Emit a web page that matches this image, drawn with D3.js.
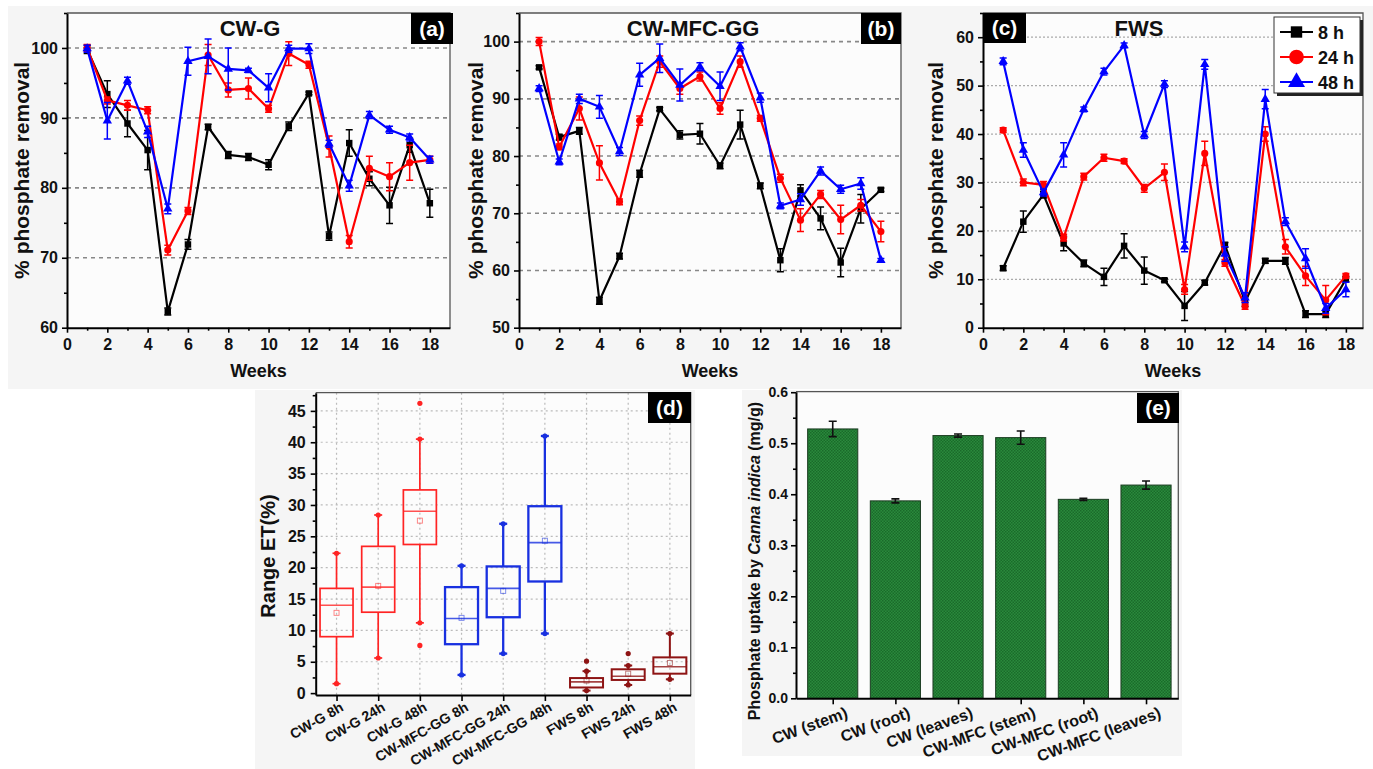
<!DOCTYPE html>
<html><head><meta charset="utf-8">
<script src="https://cdn.jsdelivr.net/npm/d3@7"></script>
<style>
body{margin:0;background:#fff;}
svg{display:block;font-family:"Liberation Sans",Arial,sans-serif;font-weight:bold;}
</style>
</head><body>
<svg id="c" width="1373" height="769"></svg>
<script>
// ---------------- DATA ----------------
const weeks = [1,2,3,4,5,6,7,8,9,10,11,12,13,14,15,16,17,18];
const weekTicks = [0,2,4,6,8,10,12,14,16,18];
const weekMinor = [1,3,5,7,9,11,13,15,17];
const seriesNames = ["8 h","24 h","48 h"];

// (a) CW-G
const cwg8    = [99.8,93.4,89.2,85.4,62.3,71.9,88.7,84.7,84.4,83.3,88.8,93.5,73.1,86.4,81.3,77.5,86.1,77.8];
const cwg8Err = [0.6,1.9,1.9,2.8,0.5,0.7,0.4,0.5,0.5,0.7,0.6,0.2,0.6,1.9,1.0,2.6,1.0,2.0];
const cwg24   = [100.0,92.5,91.8,91.1,71.1,76.7,99.0,94.0,94.2,91.3,99.2,97.6,85.9,72.3,82.8,81.6,83.6,84.0];
const cwg24Err= [0.5,0.5,0.7,0.5,0.7,0.5,1.5,1.0,1.5,0.5,1.7,0.5,1.5,0.9,1.7,2.0,2.5,0.5];
const cwg48   = [99.9,89.6,95.3,88.0,77.0,98.1,98.8,97.0,96.8,94.3,99.9,99.9,86.3,80.3,90.4,88.3,87.2,84.0];
const cwg48Err= [0.5,2.6,0.5,0.8,0.7,2.0,2.5,3.0,0.3,2.0,0.5,0.7,0.5,0.8,0.5,0.5,0.5,0.5];

// (b) CW-MFC-GG
const mfc8    = [95.5,83.3,84.4,54.7,62.5,76.9,88.2,83.7,83.9,78.3,85.5,74.8,61.8,74.0,69.1,61.4,70.8,74.1];
const mfc8Err = [0.3,0.5,0.6,0.6,0.5,0.6,0.3,0.7,1.8,0.5,2.5,0.5,2.0,1.0,2.0,2.5,2.5,0.3];
const mfc24   = [100.0,81.6,88.3,78.8,72.0,86.2,96.5,91.8,93.9,88.3,96.5,86.6,76.1,68.8,73.3,68.9,71.4,66.8];
const mfc24Err= [0.7,0.5,2.0,3.0,0.5,0.8,1.0,1.0,0.8,1.0,1.0,0.5,0.7,2.0,0.7,2.5,1.0,1.8];
const mfc48   = [91.8,79.0,90.0,88.6,80.8,94.2,97.1,92.4,95.6,92.2,99.1,90.2,71.3,72.4,77.4,74.2,75.2,61.8];
const mfc48Err= [0.5,0.5,0.8,2.0,0.7,2.0,2.5,2.8,0.7,2.5,0.7,0.8,0.5,1.0,0.7,0.7,1.0,0.3];

// (c) FWS
const fws8    = [12.3,21.9,27.5,17.4,13.3,10.5,16.9,11.8,9.8,4.5,9.3,17.1,5.4,13.8,13.8,2.8,2.8,10.0];
const fws8Err = [0.5,2.2,0.7,1.5,0.7,1.8,2.5,2.8,0.3,3.0,0.5,0.5,1.0,0.5,0.7,0.7,0.7,0.5];
const fws24   = [40.8,30.0,29.5,18.6,31.2,35.1,34.4,28.8,32.1,7.9,36.0,13.4,4.5,40.0,16.7,10.7,5.7,10.7];
const fws24Err= [0.5,0.7,0.7,0.7,0.7,0.7,0.5,0.8,1.7,1.0,2.5,0.7,0.7,1.5,1.5,2.0,3.0,0.5];
const fws48   = [55.0,36.7,27.9,35.7,45.1,52.9,58.3,39.8,50.3,16.7,54.4,15.2,6.2,47.2,21.9,14.3,4.0,7.9];
const fws48Err= [0.7,1.5,0.7,2.5,0.5,0.7,0.5,0.7,0.7,1.0,1.0,1.5,1.0,2.0,0.8,2.0,1.0,1.5];

// (d) box plot
const boxCats  = ["CW-G 8h","CW-G 24h","CW-G 48h","CW-MFC-GG 8h","CW-MFC-GG 24h","CW-MFC-GG 48h","FWS 8h","FWS 24h","FWS 48h"];
const boxLo    = [1.5,5.6,11.2,2.9,6.3,9.5,0.4,1.3,2.2];
const boxQ1    = [9.0,12.9,23.7,7.8,12.1,17.8,0.9,2.1,3.1];
const boxMed   = [14.0,16.9,29.0,11.9,16.7,24.0,1.8,2.7,4.2];
const boxQ3    = [16.7,23.4,32.4,16.9,20.2,29.8,2.4,3.8,5.7];
const boxHi    = [22.3,28.4,40.5,20.3,27.0,41.0,3.5,4.4,9.5];
const boxMean  = [12.8,17.1,27.5,12.0,16.3,24.3,2.0,3.1,4.8];
const boxOut   = [[],[],[7.6,46.2],[],[],[],[5.1],[6.3],[]];
const boxTicks = [0,5,10,15,20,25,30,35,40,45];

// (e) bar chart
const barCats = ["CW (stem)","CW (root)","CW (leaves)","CW-MFC (stem)","CW-MFC (root)","CW-MFC (leaves)"];
const barVals = [0.528,0.387,0.515,0.511,0.390,0.418];
const barErr  = [0.015,0.004,0.003,0.013,0.002,0.008];
const barTicks = [0.0,0.1,0.2,0.3,0.4,0.5,0.6];

// ---------------- DRAWING ----------------
const svg = d3.select('#c');
const defs = svg.append('defs');

// panel backgrounds
svg.append('rect').attr('x',8).attr('y',6).attr('width',1365).attr('height',383).attr('fill','#f5f5f5');
svg.append('rect').attr('x',255).attr('y',390).attr('width',440).attr('height',379).attr('fill','#f5f5f5');
svg.append('rect').attr('x',742).attr('y',390).attr('width',440).attr('height',366).attr('fill','#f5f5f5');

function styleAxis(sel, fs){
  sel.select('.domain').attr('stroke','#000').attr('stroke-width',2);
  sel.selectAll('.tick line').attr('stroke','#000').attr('stroke-width',1.6);
  sel.selectAll('.tick text').attr('fill','#111').style('font-size',fs+'px').style('font-weight','bold');
}

function labelBox(x0,y0,w,h,txt){
  svg.append('rect').attr('x',x0).attr('y',y0).attr('width',w).attr('height',h).attr('fill','#000');
  svg.append('text').attr('x',x0+w/2).attr('y',y0+h/2+7).attr('text-anchor','middle')
    .attr('fill','#fff').style('font-size','21px').text(txt);
}

const symType = [d3.symbolSquare, d3.symbolCircle, d3.symbolTriangle];
const symSize = [42, 40, 38];
const colors = ['#000000','#ff0000','#0000ff'];

function linePanel(o){
  const x = d3.scaleLinear().domain(o.xd).range([o.l,o.r]);
  const y = d3.scaleLinear().domain(o.yd).range([o.b,o.t]);
  const g = svg.append('g');
  g.append('rect').attr('x',o.l).attr('y',o.t).attr('width',o.r-o.l).attr('height',o.b-o.t).attr('fill','#fcfcfc');
  g.selectAll(null).data(o.grid).join('line')
    .attr('x1',o.l).attr('x2',o.r).attr('y1',d=>y(d)).attr('y2',d=>y(d))
    .attr('stroke',o.gridColor).attr('stroke-width',o.gridW).attr('stroke-dasharray',o.dash);
  g.append('path').attr('d',`M${o.l},${o.t}H${o.r}V${o.b}`).attr('fill','none').attr('stroke','#555').attr('stroke-width',1.3);
  // minor ticks
  g.append('g').attr('transform',`translate(0,${o.b})`)
    .call(d3.axisBottom(x).tickValues(weekMinor).tickSize(3).tickSizeOuter(0).tickFormat(''))
    .call(s=>{s.select('.domain').remove(); s.selectAll('line').attr('stroke','#000').attr('stroke-width',1.6);});
  g.append('g').attr('transform',`translate(${o.l},0)`)
    .call(d3.axisLeft(y).tickValues(o.yMinor).tickSize(3).tickSizeOuter(0).tickFormat(''))
    .call(s=>{s.select('.domain').remove(); s.selectAll('line').attr('stroke','#000').attr('stroke-width',1.6);});
  g.append('g').attr('transform',`translate(0,${o.b})`)
    .call(d3.axisBottom(x).tickValues(weekTicks).tickSize(5).tickSizeOuter(0).tickPadding(6).tickFormat(d3.format('d')))
    .call(s=>styleAxis(s,16));
  g.append('g').attr('transform',`translate(${o.l},0)`)
    .call(d3.axisLeft(y).tickValues(o.yTicks).tickSize(5).tickSizeOuter(0).tickPadding(4).tickFormat(d3.format('d')))
    .call(s=>styleAxis(s,16));
  // axis titles
  g.append('text').attr('x',(o.l+o.r)/2).attr('y',o.b+49).attr('text-anchor','middle')
    .style('font-size','18px').attr('fill','#111').text('Weeks');
  g.append('text').attr('transform',`translate(${o.yl},${(o.t+o.b)/2}) rotate(-90)`).attr('text-anchor','middle')
    .attr('dy','0.35em').style('font-size','21px').attr('fill','#111').text('% phosphate removal');
  g.append('text').attr('x',o.l+o.tx).attr('y',o.t+23).attr('text-anchor','middle')
    .style('font-size','22px').attr('fill','#111').text(o.title);
  // series
  o.series.forEach((s,k)=>{
    const data = weeks.map((w,i)=>({w:w, v:s.v[i], e:s.e[i]}));
    g.append('path').datum(data)
      .attr('d',d3.line().x(d=>x(d.w)).y(d=>y(d.v)))
      .attr('fill','none').attr('stroke',colors[k]).attr('stroke-width',2.2).attr('stroke-linejoin','round');
    g.append('g').selectAll('path').data(data).join('path')
      .attr('d',d=>{const cx=x(d.w), y1=y(d.v+d.e), y2=y(d.v-d.e);
        return `M${cx-3.5},${y1}H${cx+3.5}M${cx},${y1}V${y2}M${cx-3.5},${y2}H${cx+3.5}`;})
      .attr('stroke',colors[k]).attr('stroke-width',1.5).attr('fill','none');
    g.append('g').selectAll('path').data(data).join('path')
      .attr('transform',d=>`translate(${x(d.w)},${y(d.v)})`)
      .attr('d',d3.symbol().type(symType[k]).size(symSize[k]))
      .attr('fill',colors[k]);
  });
  return {x,y};
}

linePanel({l:67,r:450,t:13,b:327.7,xd:[0,19],yd:[60,105],
  yTicks:[60,70,80,90,100], yMinor:[65,75,85,95,105], grid:[70,80,90,100],
  gridColor:'#888',gridW:1.6,dash:'4,4', yl:22, tx:183, title:'CW-G',
  series:[{v:cwg8,e:cwg8Err},{v:cwg24,e:cwg24Err},{v:cwg48,e:cwg48Err}]});
linePanel({l:519,r:901,t:13,b:327.7,xd:[0,19],yd:[50,105],
  yTicks:[50,60,70,80,90,100], yMinor:[55,65,75,85,95,105], grid:[60,70,80,90,100],
  gridColor:'#888',gridW:1.6,dash:'4,4', yl:476, tx:174, title:'CW-MFC-GG',
  series:[{v:mfc8,e:mfc8Err},{v:mfc24,e:mfc24Err},{v:mfc48,e:mfc48Err}]});
linePanel({l:983,r:1363,t:13,b:327.7,xd:[0,18.85],yd:[0,65],
  yTicks:[0,10,20,30,40,50,60], yMinor:[5,15,25,35,45,55,65], grid:[10,20,30,40,50,60],
  gridColor:'#aaa',gridW:1.3,dash:'2,2', yl:936, tx:156, title:'FWS',
  series:[{v:fws8,e:fws8Err},{v:fws24,e:fws24Err},{v:fws48,e:fws48Err}]});

labelBox(411,13,42,31,'(a)');
labelBox(861,13,40,31,'(b)');
labelBox(983,13,43,30,'(c)');

// legend
const lg = svg.append('g');
lg.append('rect').attr('x',1277).attr('y',20).attr('width',86).attr('height',76).attr('fill','#222');
lg.append('rect').attr('x',1274).attr('y',17).attr('width',86).attr('height',76).attr('fill','#fff').attr('stroke','#333').attr('stroke-width',1);
const legSize=[130,170,125];
seriesNames.forEach((nm,k)=>{
  const yy = 32 + k*25;
  lg.append('line').attr('x1',1280).attr('x2',1313).attr('y1',yy).attr('y2',yy).attr('stroke',colors[k]).attr('stroke-width',2.2);
  lg.append('path').attr('transform',`translate(1296.5,${yy})`).attr('d',d3.symbol().type(symType[k]).size(legSize[k])).attr('fill',colors[k]);
  lg.append('text').attr('x',1318).attr('y',yy+6.5).style('font-size','18px').attr('fill','#111').text(nm);
});

// ---------------- (d) BOX PLOT ----------------
(function(){
  const l=315.7, r=690.7, t=392.7, b=695;
  const x = d3.scaleLinear().domain([0.5,9.5]).range([l,r]);
  const y = d3.scaleLinear().domain([-0.3,47.9]).range([b,t]);
  const g = svg.append('g');
  g.append('rect').attr('x',l).attr('y',t).attr('width',r-l).attr('height',b-t).attr('fill','#fcfcfc');
  g.selectAll(null).data(boxTicks.slice(1)).join('line')
    .attr('x1',l).attr('x2',r).attr('y1',d=>y(d)).attr('y2',d=>y(d))
    .attr('stroke','#bbb').attr('stroke-width',1.2).attr('stroke-dasharray','2,3');
  g.selectAll(null).data(boxCats).join('line')
    .attr('x1',(d,i)=>x(i+1)).attr('x2',(d,i)=>x(i+1)).attr('y1',t).attr('y2',b)
    .attr('stroke','#bbb').attr('stroke-width',1.2).attr('stroke-dasharray','2,3');
  g.append('path').attr('d',`M${l},${t}H${r}V${b}`).attr('fill','none').attr('stroke','#555').attr('stroke-width',1.3);
  g.append('g').attr('transform',`translate(${l},0)`)
    .call(d3.axisLeft(y).tickValues(boxTicks.map(d=>d+2.5)).tickSize(3).tickSizeOuter(0).tickFormat(''))
    .call(s=>{s.select('.domain').remove(); s.selectAll('line').attr('stroke','#000').attr('stroke-width',1.6);});
  g.append('g').attr('transform',`translate(${l},0)`)
    .call(d3.axisLeft(y).tickValues(boxTicks).tickSize(5).tickSizeOuter(0).tickPadding(5).tickFormat(d3.format('d')))
    .call(s=>styleAxis(s,16));
  g.append('g').attr('transform',`translate(0,${b})`)
    .call(d3.axisBottom(x).tickValues(d3.range(1,10)).tickSize(6).tickSizeOuter(0).tickFormat(''))
    .call(s=>styleAxis(s,16));
  g.selectAll(null).data(boxCats).join('text')
    .attr('transform',(d,i)=>`translate(${x(i+1)+8},${b+15}) rotate(-30)`)
    .attr('text-anchor','end').style('font-size','14px').attr('fill','#111').text(d=>d);
  g.append('text').attr('transform',`translate(268,556) rotate(-90)`).attr('text-anchor','middle')
    .attr('dy','0.35em').style('font-size','20px').attr('fill','#111').text('Range ET(%)');
  const bcol = i => i<3 ? '#ff2424' : (i<6 ? '#1830e0' : '#8e1414');
  const bw = 33;
  boxCats.forEach((c,i)=>{
    const cx = x(i+1), col = bcol(i), sw = i<3?1.7:(i<6?2.3:2);
    const bg = g.append('g').attr('stroke',col).attr('fill','none').attr('stroke-width',sw);
    bg.append('line').attr('x1',cx).attr('x2',cx).attr('y1',y(boxHi[i])).attr('y2',y(boxQ3[i]));
    bg.append('line').attr('x1',cx).attr('x2',cx).attr('y1',y(boxQ1[i])).attr('y2',y(boxLo[i]));
    bg.append('line').attr('x1',cx-4).attr('x2',cx+4).attr('y1',y(boxHi[i])).attr('y2',y(boxHi[i]));
    bg.append('line').attr('x1',cx-4).attr('x2',cx+4).attr('y1',y(boxLo[i])).attr('y2',y(boxLo[i]));
    bg.append('rect').attr('x',cx-bw/2).attr('y',y(boxQ3[i])).attr('width',bw).attr('height',y(boxQ1[i])-y(boxQ3[i]));
    bg.append('line').attr('x1',cx-bw/2).attr('x2',cx+bw/2).attr('y1',y(boxMed[i])).attr('y2',y(boxMed[i])).attr('stroke-width',1.6).attr('stroke-opacity',0.8);
    bg.append('rect').attr('x',cx-2.5).attr('y',y(boxMean[i])-2.5).attr('width',5).attr('height',5).attr('stroke-width',0.9).attr('stroke-opacity',0.6);
    [boxLo[i],boxHi[i]].concat(boxOut[i]).forEach(v=>{
      g.append('circle').attr('cx',cx).attr('cy',y(v)).attr('r',2.6).attr('fill',col);
    });
  });
  labelBox(648,392,43,31,'(d)');
})();

// ---------------- (e) BAR CHART ----------------
(function(){
  const l=796, r=1178.3, t=391.7, b=698.3;
  const x = d3.scaleLinear().domain([0.414,6.515]).range([l,r]);
  const y = d3.scaleLinear().domain([0,0.601]).range([b,t]);
  const pat = defs.append('pattern').attr('id','hatch').attr('patternUnits','userSpaceOnUse').attr('width',3).attr('height',3);
  pat.append('rect').attr('width',3).attr('height',3).attr('fill','#2a8a3c');
  pat.append('rect').attr('width',1.5).attr('height',1.5).attr('fill','#1a6a2a');
  pat.append('rect').attr('x',1.5).attr('y',1.5).attr('width',1.5).attr('height',1.5).attr('fill','#1a6a2a');
  const g = svg.append('g');
  g.append('rect').attr('x',l).attr('y',t).attr('width',r-l).attr('height',b-t).attr('fill','#fcfcfc');
  g.append('path').attr('d',`M${l},${t}H${r}V${b}`).attr('fill','none').attr('stroke','#555').attr('stroke-width',1.3);
  const bw = 0.8;
  g.selectAll(null).data(barVals).join('rect')
    .attr('x',(d,i)=>x(i+1-bw/2)).attr('width',x(1+bw/2)-x(1-bw/2))
    .attr('y',d=>y(d)).attr('height',d=>y(0)-y(d))
    .attr('fill','url(#hatch)').attr('stroke','#1c3d22').attr('stroke-width',1);
  g.selectAll(null).data(barVals).join('path')
    .attr('d',(d,i)=>{const cx=x(i+1), y1=y(d+barErr[i]), y2=y(d-barErr[i]);
      return `M${cx-4},${y1}H${cx+4}M${cx},${y1}V${y2}M${cx-4},${y2}H${cx+4}`;})
    .attr('stroke','#111').attr('stroke-width',1.6).attr('fill','none');
  g.append('g').attr('transform',`translate(${l},0)`)
    .call(d3.axisLeft(y).tickValues(barTicks.slice(0,6).map(d=>d+0.05)).tickSize(3).tickSizeOuter(0).tickFormat(''))
    .call(s=>{s.select('.domain').remove(); s.selectAll('line').attr('stroke','#000').attr('stroke-width',1.6);});
  g.append('g').attr('transform',`translate(${l},0)`)
    .call(d3.axisLeft(y).tickValues(barTicks).tickSize(5).tickSizeOuter(0).tickPadding(3).tickFormat(d3.format('.1f')))
    .call(s=>styleAxis(s,14));
  g.append('g').attr('transform',`translate(0,${b})`)
    .call(d3.axisBottom(x).tickValues(d3.range(1,7)).tickSize(6).tickSizeOuter(0).tickFormat(''))
    .call(s=>styleAxis(s,14));
  g.selectAll(null).data(barCats).join('text')
    .attr('transform',(d,i)=>`translate(${x(i+1)+16},${b+19}) rotate(-20)`)
    .attr('text-anchor','end').style('font-size','16px').attr('fill','#111').text(d=>d);
  const yl = g.append('text').attr('transform',`translate(754,561) rotate(-90)`).attr('text-anchor','middle')
    .attr('dy','0.35em').style('font-size','16px').attr('fill','#111');
  yl.append('tspan').text('Phosphate uptake by ');
  yl.append('tspan').style('font-style','italic').text('Canna indica');
  yl.append('tspan').text(' (mg/g)');
  labelBox(1137,393,42,30,'(e)');
})();
</script>
</body></html>
